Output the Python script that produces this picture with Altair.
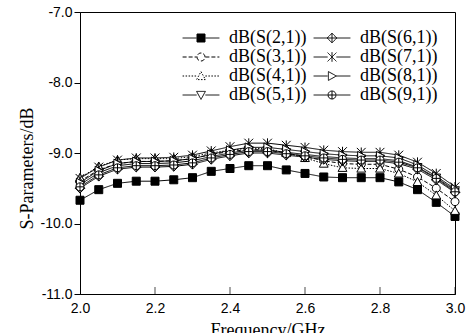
import altair as alt
import pandas as pd

# ---------------- data ----------------
freq = [2.00, 2.05, 2.10, 2.15, 2.20, 2.25, 2.30, 2.35, 2.40, 2.45, 2.50,
        2.55, 2.60, 2.65, 2.70, 2.75, 2.80, 2.85, 2.90, 2.95, 3.00]

s21 = [-9.67, -9.52, -9.43, -9.40, -9.40, -9.38, -9.35, -9.26, -9.22, -9.18, -9.18,
       -9.24, -9.29, -9.34, -9.35, -9.35, -9.35, -9.41, -9.52, -9.70, -9.90]
s31 = [-9.40, -9.24, -9.15, -9.12, -9.12, -9.11, -9.08, -9.02, -8.98, -8.95, -8.96,
       -9.00, -9.05, -9.11, -9.15, -9.16, -9.16, -9.23, -9.34, -9.50, -9.69]
s41 = [-9.35, -9.19, -9.10, -9.08, -9.08, -9.08, -9.05, -9.00, -8.96, -8.93, -8.94,
       -9.00, -9.07, -9.15, -9.21, -9.22, -9.22, -9.29, -9.41, -9.60, -9.82]
s51 = [-9.45, -9.28, -9.18, -9.15, -9.15, -9.14, -9.11, -9.05, -9.00, -8.96, -8.96,
       -8.99, -9.02, -9.05, -9.07, -9.08, -9.08, -9.11, -9.20, -9.35, -9.53]
s61 = [-9.50, -9.33, -9.23, -9.20, -9.20, -9.19, -9.16, -9.09, -9.04, -9.00, -9.00,
       -9.03, -9.06, -9.09, -9.11, -9.12, -9.12, -9.15, -9.23, -9.38, -9.56]
s71 = [-9.36, -9.20, -9.10, -9.07, -9.07, -9.06, -9.03, -8.97, -8.91, -8.86, -8.86,
       -8.89, -8.92, -8.96, -8.98, -8.99, -8.99, -9.03, -9.13, -9.29, -9.48]
s81 = [-9.42, -9.25, -9.15, -9.12, -9.12, -9.11, -9.08, -9.02, -8.96, -8.92, -8.92,
       -8.95, -8.98, -9.01, -9.03, -9.04, -9.04, -9.07, -9.17, -9.33, -9.51]
s91 = [-9.48, -9.31, -9.21, -9.18, -9.18, -9.17, -9.14, -9.07, -9.02, -8.98, -8.98,
       -9.01, -9.04, -9.07, -9.09, -9.10, -9.10, -9.13, -9.21, -9.36, -9.55]

names = ["dB(S(2,1))", "dB(S(3,1))", "dB(S(4,1))", "dB(S(5,1))",
         "dB(S(6,1))", "dB(S(7,1))", "dB(S(8,1))", "dB(S(9,1))"]
values = [s21, s31, s41, s51, s61, s71, s81, s91]

x_ticks = [2.0, 2.2, 2.4, 2.6, 2.8, 3.0]
y_ticks = [-11.0, -10.5, -10.0, -9.5, -9.0, -8.5, -8.0, -7.5, -7.0]
X_MIN, X_MAX = 2.0, 3.0
Y_MIN, Y_MAX = -11.0, -7.0

rows = []
for n, vals in zip(names, values):
    for f, v in zip(freq, vals):
        rows.append({"freq": f, "value": v, "series": n})
df = pd.DataFrame(rows)
ticks_df = pd.DataFrame({"t": x_ticks})

# ---------------- styles ----------------
SQ = "M-1,-1H1V1H-1Z"
CIRC = "M-1,0A1,1,0,1,0,1,0A1,1,0,1,0,-1,0Z"
TRI_UP = "M0,-1.1L1.1,0.9H-1.1Z"
TRI_DN = "M-1.1,-0.9H1.1L0,1.1Z"
DIAM = "M0,-1.2L1.2,0L0,1.2L-1.2,0ZM0,-1.2V1.2M-1.2,0H1.2"
XMK = "M-1.1,-1.1L1.1,1.1M-1.1,1.1L1.1,-1.1M0,-1.2V1.2"
TRI_R = "M-0.9,-1.1L1.1,0L-0.9,1.1Z"
CPLUS = CIRC + "M0,-1V1M-1,0H1"

marker = {
    "dB(S(2,1))": SQ, "dB(S(3,1))": CIRC, "dB(S(4,1))": TRI_UP, "dB(S(5,1))": TRI_DN,
    "dB(S(6,1))": DIAM, "dB(S(7,1))": XMK, "dB(S(8,1))": TRI_R, "dB(S(9,1))": CPLUS,
}
dash = {n: [1, 0] for n in names}
dash["dB(S(3,1))"] = [4, 2]
dash["dB(S(4,1))"] = [1.5, 1.5]
fillc = {n: "white" for n in names}
fillc["dB(S(2,1))"] = "black"

def legend_path(n):
    return "M-4.6,0H-1.1" + marker[n] + "M1.1,0H4.6"

num_fmt = "replace(format(datum.value,'.1f'),'\u2212','-')"

base = alt.Chart(df).encode(
    x=alt.X("freq:Q", scale=alt.Scale(domain=[X_MIN, X_MAX], nice=False, zero=False),
            axis=alt.Axis(values=x_ticks, title="Frequency/GHz", ticks=False,
                          labelExpr=num_fmt, labelPadding=7, titlePadding=6,
                          labelFlush=False, labelOverlap=False)),
    y=alt.Y("value:Q", scale=alt.Scale(domain=[Y_MIN, Y_MAX], nice=False, zero=False),
            axis=alt.Axis(values=y_ticks, title="S-Parameters/dB", tickSize=6,
                          labelExpr=num_fmt, labelPadding=2, labelFlush=False,
                          labelOverlap=False, titleX=-48, titleY=156,
                          titleBaseline="alphabetic")),
)

lines = base.mark_line(color="black", strokeWidth=1).encode(
    strokeDash=alt.StrokeDash("series:N", legend=None,
                              scale=alt.Scale(domain=names, range=[dash[n] for n in names])),
    detail="series:N",
)

points = base.mark_point(filled=True, stroke="black", strokeWidth=1, size=64, opacity=1).encode(
    shape=alt.Shape("series:N", legend=None,
                    scale=alt.Scale(domain=names, range=[marker[n] for n in names])),
    fill=alt.Fill("series:N", legend=None,
                  scale=alt.Scale(domain=names, range=[fillc[n] for n in names])),
)

leg = alt.Legend(orient="none", legendX=112, legendY=17, columns=2, title=None,
                 labelFont="Liberation Serif", labelFontSize=18, labelColor="black",
                 labelOffset=19, columnPadding=4, rowPadding=1, symbolSize=64,
                 symbolStrokeWidth=1, symbolStrokeColor="black", padding=0, labelLimit=0)

legend_layer = base.mark_point(filled=True, strokeWidth=1, size=64, opacity=1).encode(
    shape=alt.Shape("series:N", legend=leg,
                    scale=alt.Scale(domain=names, range=[legend_path(n) for n in names])),
    fill=alt.Fill("series:N", legend=leg,
                  scale=alt.Scale(domain=names, range=[fillc[n] for n in names])),
    stroke=alt.Stroke("series:N", legend=leg,
                      scale=alt.Scale(domain=names, range=["black"] * len(names))),
    strokeDash=alt.StrokeDash("series:N", legend=leg,
                              scale=alt.Scale(domain=names, range=[dash[n] for n in names])),
).transform_filter("false")

xticks_layer = alt.Chart(ticks_df).mark_tick(
    color="black", thickness=1, size=14, clip=True, orient="vertical"
).encode(x=alt.X("t:Q"), y=alt.datum(Y_MIN))

chart = alt.layer(lines, points, legend_layer, xticks_layer).resolve_scale(
    shape="independent", fill="independent", strokeDash="independent", stroke="independent"
).properties(
    width=375, height=282,
    autosize=alt.AutoSizeParams(type="none"),
    padding={"left": 80, "top": 12, "right": 20, "bottom": 39},
    background="white",
).configure_view(
    stroke="black", strokeWidth=1
).configure_axis(
    grid=False, domainColor="black", tickColor="black", labelColor="black",
    titleColor="black", labelFont="Liberation Sans", labelFontSize=14,
    titleFont="Liberation Serif", titleFontSize=18, titleFontWeight="normal",
    domainWidth=1, tickWidth=1,
)

chart.save("out.html", embed_options={"renderer": "svg", "actions": False})
